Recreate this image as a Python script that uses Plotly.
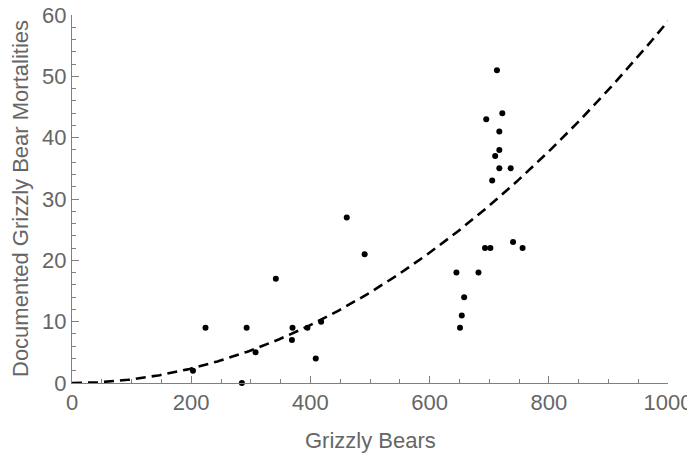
import numpy as np
import plotly.graph_objects as go

bears = [203, 224, 293, 285, 308, 342, 370, 369, 395, 409, 418, 461, 491,
         713, 722, 695, 717, 717, 710, 717, 736, 705,
         693, 702, 740, 756, 645, 682, 658, 654, 651]
mortalities = [2, 9, 9, 0, 5, 17, 9, 7, 9, 4, 10, 27, 21,
               51, 44, 43, 41, 38, 37, 35, 35, 33,
               22, 22, 23, 22, 18, 18, 14, 11, 9]
fit_coef = 5.9e-5  # quadratic fit y = c * x^2

x_fit = np.linspace(0, 1000, 300)
y_fit = fit_coef * x_fit ** 2

fig = go.Figure()
fig.add_trace(go.Scatter(x=x_fit, y=y_fit, mode="lines",
                         line=dict(color="black", width=2.6, dash="10px,6px"),
                         cliponaxis=False, hoverinfo="skip"))
fig.add_trace(go.Scatter(x=bears, y=mortalities, mode="markers",
                         marker=dict(color="black", size=6),
                         cliponaxis=False))

axis_col = "#808080"
font_col = "#666666"
fam = "Liberation Sans, Arial"
common = dict(showgrid=False, zeroline=False, showline=True, linecolor=axis_col,
              linewidth=1, ticks="inside", ticklen=7, tickcolor=axis_col,
              tickfont=dict(size=22, color=font_col, family=fam),
              ticklabeloverflow="allow",
              automargin=False, mirror=False)

# page body has an 8px margin, so the figure is 8px smaller than the window
fig.update_layout(
    width=687, height=445,
    margin=dict(l=64, r=27, t=7, b=70),
    paper_bgcolor="white", plot_bgcolor="white",
    showlegend=False,
    xaxis=dict(range=[0, 1000], tickvals=[0, 200, 400, 600, 800, 1000],
               minor=dict(dtick=50, ticks="inside", ticklen=4, tickcolor=axis_col),
               **common),
    yaxis=dict(range=[0, 60], tickvals=[0, 10, 20, 30, 40, 50, 60],
               minor=dict(dtick=2, ticks="inside", ticklen=4, tickcolor=axis_col),
               **common),
    annotations=[
        dict(text="Grizzly Bears", xref="paper", yref="paper", x=0.5, y=0,
             xanchor="center", yanchor="middle", yshift=-57, showarrow=False,
             font=dict(size=22, color=font_col, family=fam)),
        dict(text="Documented Grizzly Bear Mortalities", xref="paper", yref="paper",
             x=0, y=0.5, xanchor="center", yanchor="middle", xshift=-52,
             textangle=-90, showarrow=False,
             font=dict(size=22, color=font_col, family=fam)),
    ],
)

fig.write_html("out.html")
